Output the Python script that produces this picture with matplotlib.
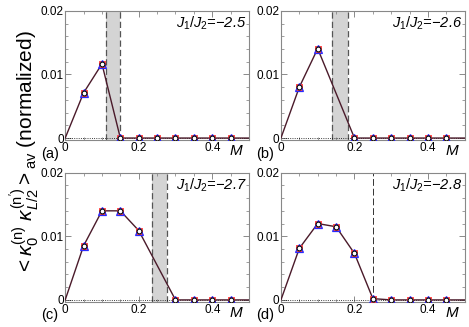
import numpy as np
import matplotlib
matplotlib.use("Agg")
import matplotlib.pyplot as plt

plt.rcParams['font.family'] = ['Liberation Sans', 'DejaVu Sans']
plt.rcParams['mathtext.fontset'] = 'custom'
plt.rcParams['mathtext.rm'] = 'Liberation Sans'
plt.rcParams['mathtext.it'] = 'Liberation Sans:italic'

# data
ratios = ['-2.5', '-2.6', '-2.7', '-2.8']
tags = ['(a)', '(b)', '(c)', '(d)']

M_a = [0, 0.05, 0.10, 0.15, 0.20, 0.25, 0.30, 0.35, 0.40, 0.45, 0.50]
C_a = [0, 0.0071, 0.01165, 0, 0, 0, 0, 0, 0, 0, 0]
M_b = [0, 0.05, 0.10, 0.20, 0.25, 0.30, 0.35, 0.40, 0.45, 0.50]
C_b = [0, 0.0080, 0.01405, 0, 0, 0, 0, 0, 0, 0]
M_c = [0, 0.05, 0.10, 0.15, 0.20, 0.30, 0.35, 0.40, 0.45, 0.50]
C_c = [0, 0.0085, 0.0140, 0.0140, 0.0109, 0, 0, 0, 0, 0]
M_d = [0, 0.05, 0.10, 0.15, 0.20, 0.25, 0.30, 0.35, 0.40, 0.45, 0.50]
C_d = [0, 0.0081, 0.0120, 0.0115, 0.0073, 0.0002, 0, 0, 0, 0, 0]

# transition region per panel (equal ends -> single dashed line)
bands = [(0.11, 0.15), (0.14, 0.182), (0.237, 0.277), (0.25, 0.25)]

series = [(M_a, C_a), (M_b, C_b), (M_c, C_c), (M_d, C_d)]

fig = plt.figure(figsize=(4.69, 3.27), dpi=100)
W, H = 0.392, 0.395
pos = [(0.139, 0.572), (0.599, 0.572), (0.139, 0.077), (0.599, 0.077)]

for i, (M, C) in enumerate(series):
    ax = fig.add_axes([pos[i][0], pos[i][1], W, H])
    M = np.array(M)
    C = np.array(C)
    lo, hi = bands[i]
    if hi > lo:
        ax.axvspan(lo, hi, color='#d4d4d4', lw=0)
        ax.axvline(lo, color='#555555', ls=(0, (5, 2.5)), lw=0.9)
        ax.axvline(hi, color='#555555', ls=(0, (5, 2.5)), lw=0.9)
    else:
        ax.axvline(lo, color='#333333', ls=(0, (7, 3)), lw=0.7)
    ax.axhline(0, color='black', ls=':', lw=0.6)
    ax.plot(M, C, color='#4a1a2a', lw=1.0, zorder=3)
    mk = (M > 0) & (M < 0.49)
    ax.plot(M[mk], C[mk], 's', ms=4.5, mfc='#ffb0b0', mec='#ff4040', mew=0.7, zorder=4)
    ax.plot(M[mk], C[mk], '^', ms=6, mfc='none', mec='#2a2aff', mew=0.9, zorder=5)
    ax.plot(M[mk], C[mk], 'o', ms=3.5, mfc='white', mec='black', mew=0.8, zorder=6)

    ax.set_xlim(0, 0.5)
    ax.set_ylim(-0.0003, 0.02)
    ax.set_xticks([0, 0.2, 0.4])
    ax.set_xticklabels(['0', '0.2', '0.4'])
    ax.set_xticks(np.arange(0, 0.51, 0.05), minor=True)
    ax.set_yticks([0, 0.01, 0.02])
    ax.set_yticklabels(['0', '0.01', '0.02'])
    ax.set_yticks(np.arange(0, 0.0201, 0.002), minor=True)
    ax.tick_params(which='both', direction='in', top=True, right=True,
                   color='#777777', labelsize=8.5)
    ax.tick_params(axis='x', pad=1.5)
    ax.tick_params(axis='y', pad=1)
    ax.tick_params(which='major', length=4, width=0.6)
    ax.tick_params(which='minor', length=2, width=0.5)
    for s in ax.spines.values():
        s.set_color('#888888')
        s.set_linewidth(0.8)

    ax.text(0.985, 0.9, r'$J_1/J_2$=' + ratios[i].replace('-', '\u2212'),
            transform=ax.transAxes, ha='right', va='center', fontsize=10.5,
            style='italic')
    ax.text(0.93, -0.085, 'M', transform=ax.transAxes, ha='center', va='center',
            fontsize=11, style='italic')
    ax.text(-0.085, -0.105, tags[i], transform=ax.transAxes, ha='center',
            va='center', fontsize=10.5)

fig.text(0.053, 0.532,
         r'$<\kappa_0^{(\mathrm{n})}\ \kappa_{L/2}^{(\mathrm{n}^{\prime})}>_{\mathrm{av}}$ (normalized)',
         rotation=90, ha='center', va='center', fontsize=15)

fig.savefig('out.png', dpi=100)
